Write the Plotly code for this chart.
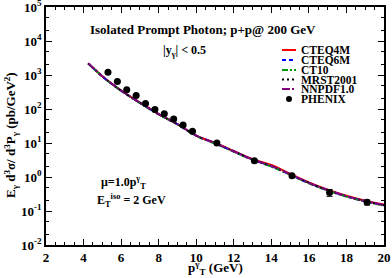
import plotly.graph_objects as go

# ---- data ----
pt_theory = [4.25, 5, 6, 7, 8, 9, 10, 11, 12, 13, 14, 15, 16, 17, 18, 19, 20]
cteq4m = [2210, 920, 350, 155, 71, 36, 16.6, 10.0, 5.8, 3.35, 2.25, 1.25, 0.69, 0.42, 0.28, 0.200, 0.155]
cteq6m = [2180, 905, 345, 152, 70, 35.5, 16.3, 9.8, 5.6, 3.22, 2.05, 1.18, 0.66, 0.41, 0.27, 0.192, 0.147]
ct10 = [2190, 910, 343, 150, 69, 35, 16.2, 9.7, 5.55, 3.2, 2.02, 1.16, 0.655, 0.40, 0.265, 0.19, 0.146]
mrst2001 = [2200, 915, 348, 153, 70.5, 35.8, 16.5, 9.9, 5.7, 3.27, 2.1, 1.2, 0.67, 0.41, 0.27, 0.194, 0.148]
nnpdf10 = [2200, 918, 350, 154, 71, 36, 16.6, 10.0, 5.72, 3.28, 2.12, 1.21, 0.675, 0.415, 0.272, 0.196, 0.15]

pt_phenix = [5.3, 5.8, 6.3, 6.8, 7.3, 7.8, 8.3, 8.8, 9.3, 9.8, 11.1, 13.1, 15.1, 17.1, 19.1]
phenix = [1210, 643, 366, 248, 144, 96, 72, 51, 34, 22, 10.0, 3.0, 1.08, 0.35, 0.18]
phenix_err = [60, 30, 18, 12, 7, 5, 4, 3, 2, 1.3, 0.6, 0.25, 0.1, 0.08, 0.03]

series_names = ["CTEQ4M", "CTEQ6M", "CT10", "MRST2001", "NNPDF1.0"]
series_vals = [cteq4m, cteq6m, ct10, mrst2001, nnpdf10]
series_colors = ["#ff0000", "#0000ff", "#009900", "#000000", "#800080"]
series_dash = ["solid", "4px,3px", "6px,2px,2px,2px", "2px,3px", "8px,2px,2px,2px"]

ytick_vals = [1e-2, 1e-1, 1, 10, 100, 1e3, 1e4, 1e5]
ytick_text = ["10<sup>-2</sup>", "10<sup>-1</sup>", "10<sup>0</sup>", "10<sup>1</sup>",
              "10<sup>2</sup>", "10<sup>3</sup>", "10<sup>4</sup>", "10<sup>5</sup>"]
xtick_vals = [2, 4, 6, 8, 10, 12, 14, 16, 18, 20]

FONT = "Liberation Serif"

fig = go.Figure()
for name, vals, col, dash in zip(series_names, series_vals, series_colors, series_dash):
    fig.add_trace(go.Scatter(x=pt_theory, y=vals, mode="lines", name=name,
                             line=dict(color=col, width=2, dash=dash, shape="spline"),
                             showlegend=False))
fig.add_trace(go.Scatter(x=pt_phenix, y=phenix, mode="markers", name="PHENIX",
                         marker=dict(color="black", size=7),
                         error_y=dict(type="data", array=phenix_err, color="black", width=3, thickness=1),
                         showlegend=False))

axis_common = dict(showline=True, linecolor="black", linewidth=1.5, mirror="ticks",
                   ticks="inside", tickcolor="black", showgrid=False, zeroline=False,
                   automargin=False, ticklabeloverflow="allow",
                   tickfont=dict(family=FONT, size=13, color="black", weight="bold"))

fig.update_xaxes(range=[2, 20], tickvals=xtick_vals, ticklen=6, tickwidth=1,
                 minor=dict(ticks="inside", ticklen=3, dtick=0.5, tickcolor="black", showgrid=False),
                 **axis_common)
fig.update_yaxes(type="log", range=[-2, 5], tickvals=ytick_vals, ticktext=ytick_text,
                 ticklen=6, tickwidth=1,
                 minor=dict(ticks="inside", ticklen=3, tickcolor="black", showgrid=False),
                 **axis_common)

L, R, T, B = 46, 8, 7, 33
W, H = 392, 278
pw, ph = W - L - R, H - T - B

def px(x):
    return (x - L) / pw

def py(y):
    return (H - B - y) / ph

annots = []
def txt(text, x, y, size=11, xanchor="center", angle=0):
    annots.append(dict(text=text, x=px(x), y=py(y), xref="paper", yref="paper",
                       showarrow=False, xanchor=xanchor, yanchor="middle", textangle=angle,
                       font=dict(family=FONT, size=size, color="black")))

txt("<b>Isolated Prompt Photon; p+p@ 200 GeV</b>", 203, 29, size=13)
txt("<b>|y<sub>γ</sub>| &lt; 0.5</b>", 184, 51, size=12)
txt("<b>μ=1.0p<sup>γ</sup><sub>T</sub></b>", 123, 182, size=12)
txt("<b>E<sub>T</sub><sup>iso</sup> = 2 GeV</b>", 131, 200, size=12)
txt("<b>p<sup>γ</sup><sub>T</sub> (GeV)</b>", 215, 268, size=13)
txt("<b>E<sub>γ</sub> d<sup>3</sup>σ/ d<sup>3</sup>P<sub>γ</sub> (pb/GeV<sup>2</sup>)</b>", 11, 135, size=13, angle=-90)

# legend (drawn manually for compact spacing)
leg_rows = [50, 60, 70, 79.5, 89, 99]
shapes = []
for name, col, dash, yy in zip(series_names, series_colors, series_dash, leg_rows):
    shapes.append(dict(type="line", xref="paper", yref="paper", x0=px(282), x1=px(296),
                       y0=py(yy), y1=py(yy), line=dict(color=col, width=2, dash=dash)))
    txt("<b>" + name + "</b>", 299, yy, size=11.5, xanchor="left")
shapes.append(dict(type="circle", xref="paper", yref="paper", x0=px(286), x1=px(292),
                   y0=py(leg_rows[-1] + 3), y1=py(leg_rows[-1] - 3), fillcolor="black",
                   line=dict(color="black", width=0)))
txt("<b>PHENIX</b>", 299, leg_rows[-1], size=11.5, xanchor="left")

fig.update_layout(width=W, height=H, margin=dict(l=L, r=R, t=T, b=B),
                  paper_bgcolor="white", plot_bgcolor="white",
                  annotations=annots, shapes=shapes, showlegend=False)

fig.write_html("out.html", config={"displayModeBar": False},
               post_script="document.body.style.margin='0';document.body.style.overflow='hidden';")
